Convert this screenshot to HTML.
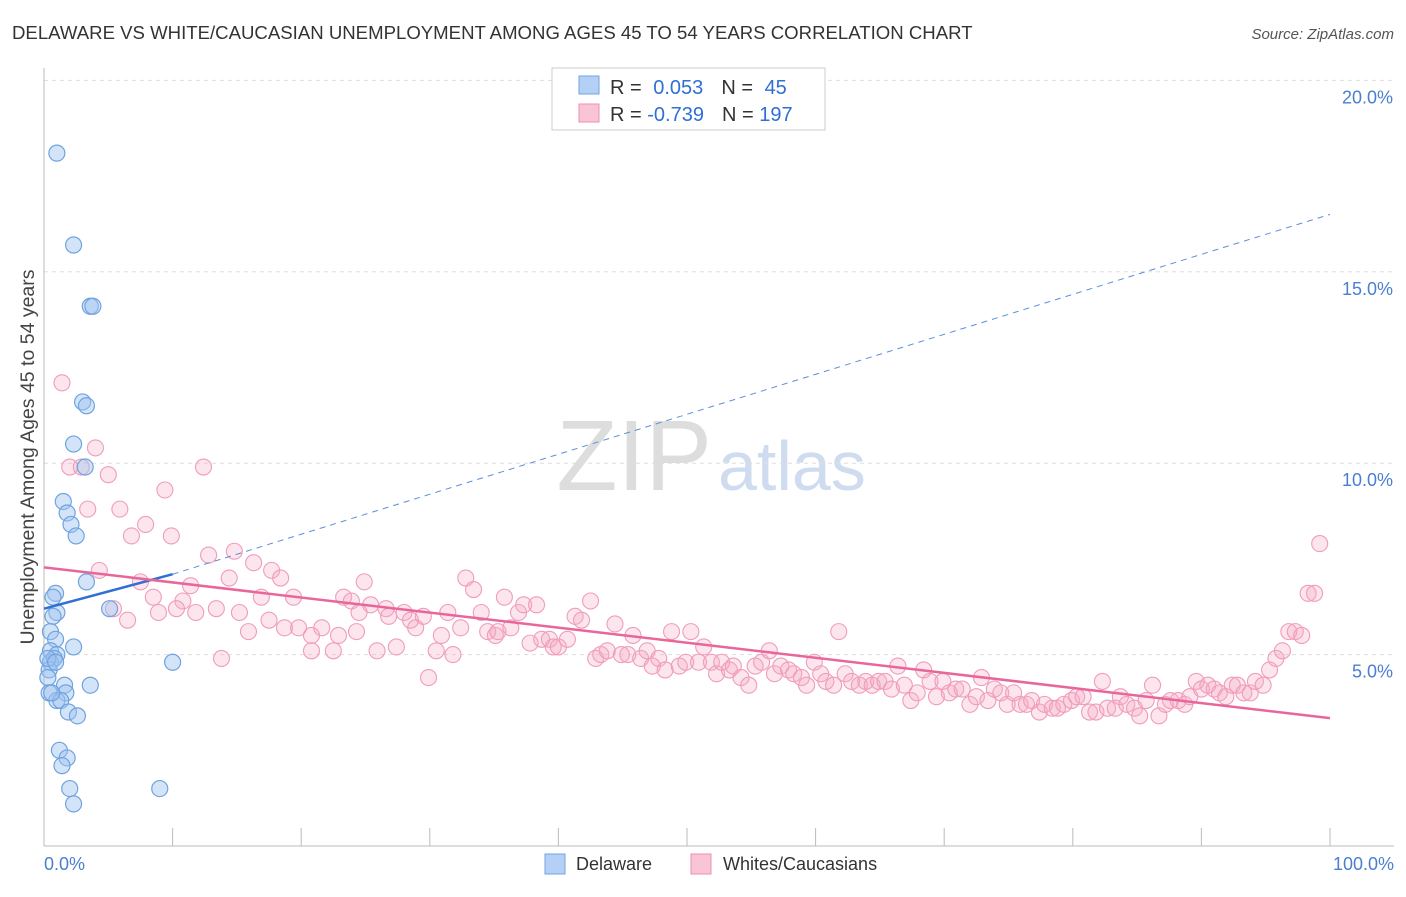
<!DOCTYPE html>
<html><head><meta charset="utf-8"><style>
body{margin:0;background:#fff;font-family:"Liberation Sans",sans-serif}
svg text{font-family:"Liberation Sans",sans-serif}
</style></head><body>
<svg id="c" width="1406" height="892" xmlns="http://www.w3.org/2000/svg">
<text x="12" y="39" font-size="18.6" fill="#333">DELAWARE VS WHITE/CAUCASIAN UNEMPLOYMENT AMONG AGES 45 TO 54 YEARS CORRELATION CHART</text>
<text x="1394" y="39" font-size="15" fill="#555" text-anchor="end" font-style="italic">Source: ZipAtlas.com</text>
<text x="712" y="490" font-size="100" fill="#ddd" text-anchor="end" font-family="Liberation Serif">ZIP</text>
<text x="718" y="490" font-size="70" fill="#cfdcf0">atlas</text>
<g id="grid"></g><g id="axes"></g><g id="marks"></g>
<text transform="translate(34,457) rotate(-90)" font-size="19.5" fill="#444" text-anchor="middle">Unemployment Among Ages 45 to 54 years</text>
<text x="44" y="870" font-size="18" fill="#4a7fd0">0.0%</text>
<text x="1394" y="870" font-size="18" fill="#4a7fd0" text-anchor="end">100.0%</text>
<g>
<rect x="552" y="68" width="273" height="62" fill="#fff" stroke="#ccc"/>
<rect x="579" y="76" width="20" height="18" fill="#b5d0f5" stroke="#6fa3e0"/>
<rect x="579" y="104" width="20" height="18" fill="#f9c4d5" stroke="#ee8fb0"/>
<text x="610" y="94" font-size="20" fill="#333">R = <tspan fill="#2f6fd6" dx="6">0.053</tspan><tspan dx="18" fill="#333">N = </tspan><tspan fill="#2f6fd6" dx="6">45</tspan></text>
<text x="610" y="121" font-size="20" fill="#333">R = <tspan fill="#2f6fd6">-0.739</tspan><tspan dx="18" fill="#333">N = </tspan><tspan fill="#2f6fd6">197</tspan></text>
</g>
<g>
<rect x="545" y="854" width="20" height="20" fill="#b5d0f5" stroke="#6fa3e0"/>
<text x="576" y="870" font-size="18" fill="#333">Delaware</text>
<rect x="691" y="854" width="20" height="20" fill="#f9c4d5" stroke="#ee8fb0"/>
<text x="723" y="870" font-size="18" fill="#333">Whites/Caucasians</text>
</g>
</svg>
<script>
const yTicks=[5,10,15,20];
const yTickLabels=["5.0%","10.0%","15.0%","20.0%"];
const xTicks=[0,10,20,30,40,50,60,70,80,90,100];
const blueX=[1.0,2.3,3.6,3.8,3.0,3.3,2.3,3.2,1.5,1.8,2.1,2.5,3.3,0.9,0.7,1.0,0.7,5.1,0.5,0.9,2.3,0.5,1.0,0.5,0.8,0.4,10.0,0.3,1.6,3.6,1.7,0.4,1.0,1.3,1.9,2.6,1.2,1.8,1.4,2.0,9.0,2.3,0.6,0.3,0.9];
const blueY=[18.1,15.7,14.1,14.1,11.6,11.5,10.5,9.9,9.0,8.7,8.4,8.1,6.9,6.6,6.5,6.1,6.0,6.2,5.6,5.4,5.2,5.1,5.0,4.8,4.9,4.6,4.8,4.4,4.2,4.2,4.0,4.0,3.8,3.8,3.5,3.4,2.5,2.3,2.1,1.5,1.5,1.1,4.0,4.9,4.8];
const pinkX=[1.4,4.0,2.0,2.9,5.0,12.4,9.4,3.4,5.9,7.9,6.8,9.9,4.3,12.8,14.8,7.5,11.4,14.4,16.3,17.7,18.4,8.5,10.8,5.4,8.9,10.3,11.8,13.4,15.2,16.9,19.4,6.5,17.5,18.7,15.9,19.8,13.8,20.8,21.6,20.8,22.5,22.9,24.3,23.3,23.9,24.9,25.4,24.5,25.9,26.6,27.4,28.0,26.8,28.5,28.9,29.5,29.9,30.5,30.9,31.8,31.4,32.4,32.8,33.4,34.0,34.5,35.1,35.3,35.8,36.3,36.9,37.3,37.8,38.3,38.7,39.3,39.6,40.0,40.7,41.3,41.8,42.5,42.9,43.3,43.8,44.4,44.9,45.4,45.8,46.4,46.9,47.3,47.8,48.3,48.8,49.4,49.9,50.3,50.9,51.3,51.9,52.3,52.7,53.3,53.6,54.2,54.8,55.3,55.8,56.4,56.8,57.3,57.9,58.3,58.9,59.3,59.9,60.4,60.8,61.4,61.8,62.3,62.8,63.4,63.9,64.4,64.9,65.4,65.9,66.4,66.9,67.4,67.9,68.4,68.9,69.4,69.9,70.4,70.9,71.4,72.0,72.5,72.9,73.4,73.9,74.4,74.9,75.4,75.9,76.4,76.8,77.4,77.8,78.4,78.8,79.3,79.9,80.3,80.8,81.3,81.8,82.3,82.7,83.3,83.7,84.2,84.8,85.2,85.7,86.2,86.7,87.2,87.6,88.2,88.7,89.1,89.6,90.0,90.5,91.0,91.4,91.9,92.4,92.8,93.3,93.8,94.2,94.8,95.3,95.8,96.3,96.8,97.3,97.8,98.3,98.8,99.2];
const pinkY=[12.1,10.4,9.9,9.9,9.7,9.9,9.3,8.8,8.8,8.4,8.1,8.1,7.2,7.6,7.7,6.9,6.8,7.0,7.4,7.2,7.0,6.5,6.4,6.2,6.1,6.2,6.1,6.2,6.1,6.5,6.5,5.9,5.9,5.7,5.6,5.7,4.9,5.5,5.7,5.1,5.1,5.5,5.6,6.5,6.4,6.9,6.3,6.1,5.1,6.2,5.2,6.1,6.0,5.9,5.7,6.0,4.4,5.1,5.5,5.0,6.1,5.7,7.0,6.7,6.1,5.6,5.5,5.6,6.5,5.7,6.1,6.3,5.3,6.3,5.4,5.4,5.2,5.2,5.4,6.0,5.9,6.4,4.9,5.0,5.1,5.8,5.0,5.0,5.5,4.9,5.1,4.7,4.9,4.6,5.6,4.7,4.8,5.6,4.8,5.2,4.8,4.5,4.8,4.6,4.7,4.4,4.2,4.7,4.8,5.1,4.5,4.7,4.6,4.5,4.4,4.2,4.8,4.5,4.3,4.2,5.6,4.5,4.3,4.2,4.3,4.2,4.3,4.3,4.1,4.7,4.2,3.8,4.0,4.6,4.3,3.9,4.3,4.0,4.1,4.1,3.7,3.9,4.4,3.8,4.1,4.0,3.7,4.0,3.7,3.7,3.8,3.5,3.7,3.6,3.6,3.7,3.8,3.9,3.9,3.5,3.5,4.3,3.6,3.6,3.9,3.7,3.6,3.4,3.8,4.2,3.4,3.7,3.8,3.8,3.7,3.9,4.3,4.1,4.2,4.1,4.0,3.9,4.2,4.2,4.0,4.0,4.3,4.2,4.6,4.9,5.1,5.6,5.6,5.5,6.6,6.6,7.9];
const blueTrend=[[0,6.2],[10,7.1],[100,16.5]];
const pinkTrend=[[0,7.28],[100,3.34]];
const X=v=>44+v*12.86, Y=v=>846-v*38.28;
const NS="http://www.w3.org/2000/svg";
function mk(parent,tag,attrs){const e=document.createElementNS(NS,tag);for(const k in attrs)e.setAttribute(k,attrs[k]);document.getElementById(parent).appendChild(e);return e;}
yTicks.forEach((t,i)=>{
 const l=mk('grid','line',{x1:44,x2:1394,y1:Y(t),y2:Y(t),stroke:'#ddd','stroke-dasharray':'4,4'});
 
 
 const tx=mk('grid','text',{x:1393,y:Y(t)+23,'font-size':18,fill:'#4a7fd0','text-anchor':'end'});
 tx.textContent=yTickLabels[i];
 
 
});
const ya=mk('axes','line',{x1:44,x2:44,y1:68,y2:846,stroke:'#bbb'});


const xa=mk('axes','line',{x1:44,x2:1394,y1:846,y2:846,stroke:'#bbb'});


xTicks.forEach(t=>{const l=mk('axes','line',{x1:X(t),x2:X(t),y1:828,y2:846,stroke:'#bbb'});
 
 });
pinkX.forEach((v,i)=>{const c=mk('marks','circle',{cx:X(v),cy:Y(pinkY[i]),r:8,fill:'rgba(245,170,195,0.3)',stroke:'#f09cba','stroke-width':1.1});
 
 });
blueX.forEach((v,i)=>{const c=mk('marks','circle',{cx:X(v),cy:Y(blueY[i]),r:8,fill:'rgba(160,196,240,0.45)',stroke:'#6fa3e0','stroke-width':1.2});
 
 });
const bs=mk('marks','line',{x1:X(blueTrend[0][0]),y1:Y(blueTrend[0][1]),x2:X(blueTrend[1][0]),y2:Y(blueTrend[1][1]),stroke:'#2f6fd6','stroke-width':2.5});


const bd=mk('marks','line',{x1:X(blueTrend[1][0]),y1:Y(blueTrend[1][1]),x2:X(blueTrend[2][0]),y2:Y(blueTrend[2][1]),stroke:'#5b8fdc','stroke-width':1,'stroke-dasharray':'6,5'});


const pt=mk('marks','line',{x1:X(pinkTrend[0][0]),y1:Y(pinkTrend[0][1]),x2:X(pinkTrend[1][0]),y2:Y(pinkTrend[1][1]),stroke:'#e8679a','stroke-width':2.5});


</script>
</body></html>
